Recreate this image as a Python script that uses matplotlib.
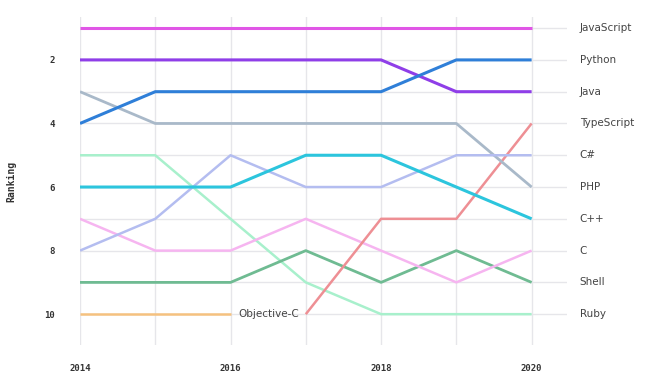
import matplotlib
matplotlib.use("Agg")
import matplotlib.pyplot as plt
import numpy as np

# data (rank per year, None = not ranked)
years = [2014, 2015, 2016, 2017, 2018, 2019, 2020]
languages = ['JavaScript', 'Python', 'Java', 'TypeScript', 'C#', 'PHP',
             'C++', 'C', 'Shell', 'Ruby', 'Objective-C']
rank_javascript = [1, 1, 1, 1, 1, 1, 1]
rank_python = [4, 3, 3, 3, 3, 2, 2]
rank_java = [2, 2, 2, 2, 2, 3, 3]
rank_typescript = [None, None, None, 10, 7, 7, 4]
rank_csharp = [8, 7, 5, 6, 6, 5, 5]
rank_php = [3, 4, 4, 4, 4, 4, 6]
rank_cpp = [6, 6, 6, 5, 5, 6, 7]
rank_c = [7, 8, 8, 7, 8, 9, 8]
rank_shell = [9, 9, 9, 8, 9, 8, 9]
rank_ruby = [5, 5, 7, 9, 10, 10, 10]
rank_objc = [10, 10, 10, None, None, None, None]

ranks = [rank_javascript, rank_python, rank_java, rank_typescript, rank_csharp,
         rank_php, rank_cpp, rank_c, rank_shell, rank_ruby, rank_objc]
colors = ['#e056e6', '#2f7fd8', '#8f3ee8', '#ee8f94', '#b4bdf0', '#a9b9c9',
          '#2cc5dd', '#f6b5f0', '#6fbb92', '#a8f0cc', '#f5c17f']
widths = [2.2, 2.2, 2.2, 1.8, 1.8, 2.0, 2.2, 1.8, 2.0, 1.8, 1.8]

fig = plt.figure(figsize=(6.5, 3.78), dpi=100)
ax = fig.add_axes([80/650, 33/378, (567-80)/650, (345-17)/378])

# draw lines, bottom of the ranking first so the top ones sit on top
order = [10, 9, 8, 7, 3, 5, 4, 6, 2, 1, 0]
for i in order:
    xs = [y for y, r in zip(years, ranks[i]) if r is not None]
    ys = [r for r in ranks[i] if r is not None]
    ax.plot(xs, ys, color=colors[i], lw=widths[i], solid_capstyle='butt', zorder=3)

ax.set_xlim(2014, 2020.47)
ax.set_ylim(10.97, 0.65)

# grid
for r in range(1, 12):
    ax.axhline(r, color='#e6e6ea', lw=1, zorder=1)
for y in years:
    ax.axvline(y, color='#e6e6ea', lw=1, zorder=1)
for s in ax.spines.values():
    s.set_visible(False)

ax.set_xticks([2014, 2016, 2018, 2020])
ax.set_yticks([2, 4, 6, 8, 10])
ax.tick_params(length=0, labelsize=6.5, colors='#333333')
ax.tick_params(axis='x', pad=14)
ax.tick_params(axis='y', pad=18)
for lab in ax.get_xticklabels() + ax.get_yticklabels():
    lab.set_family('DejaVu Sans Mono')
    lab.set_fontweight('bold')
ax.set_ylabel('Ranking', family='DejaVu Sans Mono', fontweight='bold',
              fontsize=7, color='#333333', labelpad=20)

# labels on the right, ordered by 2020 rank
for i, name in enumerate(languages[:10]):
    ax.text(2020.64, ranks[i][-1], name, fontsize=7.5, color='#444444',
            va='center', ha='left', clip_on=False)

ax.text(2016.1, 10, 'Objective-C', fontsize=7.5, color='#444444',
        va='center', ha='left', zorder=4)

fig.savefig('out.png', dpi=100)
